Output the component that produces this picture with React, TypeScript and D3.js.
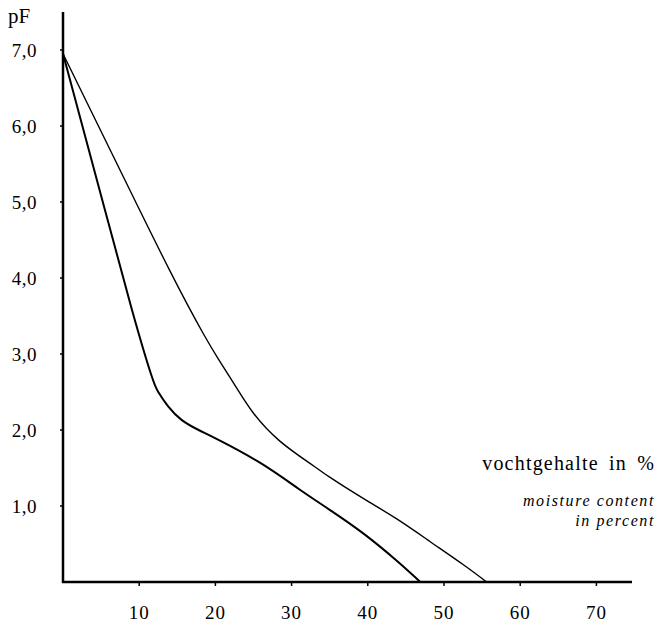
import React, { useEffect, useRef } from 'react';
import * as d3 from 'd3';

// pF curves, moisture content (%) vs pF
const upperMoisture = [0, 7, 14, 18.4, 20.6, 22.8, 25, 28.5, 32.85, 35, 39.4, 43.8, 48.2, 52.5, 55.6];
const upperPF = [6.95, 5.52, 4.1, 3.27, 2.9, 2.55, 2.22, 1.85, 1.53, 1.38, 1.1, 0.83, 0.53, 0.23, 0];

const lowerMoisture = [0, 4.5, 9, 11.6, 12.5, 13.8, 15.6, 17.8, 20.6, 26, 31, 35, 39.4, 43.8, 46.9];
const lowerPF = [6.95, 5.27, 3.6, 2.72, 2.5, 2.31, 2.13, 2.0, 1.86, 1.56, 1.22, 0.95, 0.64, 0.28, 0];

const yTicks = [1, 2, 3, 4, 5, 6, 7];
const xTicks = [10, 20, 30, 40, 50, 60, 70];

const App = () => {
  const svgRef = useRef<SVGSVGElement>(null);

  useEffect(() => {
    const svg = d3.select(svgRef.current);
    svg.selectAll('*').remove();

    const width = 661;
    const height = 630;
    const font = '"Liberation Serif", "DejaVu Serif", serif';

    const x = d3.scaleLinear().domain([0, 10]).range([63, 139.2]);
    const y = d3.scaleLinear().domain([0, 7]).range([582, 50]);

    svg.attr('width', width).attr('height', height);

    const g = svg.append('g');

    // Y axis
    g.append('line')
      .attr('x1', x(0)).attr('x2', x(0))
      .attr('y1', 12).attr('y2', y(0) + 1)
      .attr('stroke', '#000').attr('stroke-width', 2.5);

    g.selectAll('.ytick')
      .data(yTicks)
      .enter()
      .append('line')
      .attr('x1', x(0) - 3).attr('x2', x(0))
      .attr('y1', d => y(d)).attr('y2', d => y(d))
      .attr('stroke', '#000').attr('stroke-width', 1.5);

    g.selectAll('.ylab')
      .data(yTicks)
      .enter()
      .append('text')
      .attr('x', 37)
      .attr('y', d => y(d) + 7)
      .attr('text-anchor', 'end')
      .attr('font-family', font)
      .attr('font-size', 19)
      .attr('letter-spacing', 0.5)
      .text(d => d.toFixed(1).replace('.', ','));

    g.append('text')
      .attr('x', 8).attr('y', 23)
      .attr('font-family', font)
      .attr('font-size', 21)
      .text('pF');

    // X axis
    g.append('line')
      .attr('x1', x(0) - 1).attr('x2', 632)
      .attr('y1', y(0)).attr('y2', y(0))
      .attr('stroke', '#000').attr('stroke-width', 2.5);

    g.selectAll('.xtick')
      .data(xTicks)
      .enter()
      .append('line')
      .attr('x1', d => x(d)).attr('x2', d => x(d))
      .attr('y1', y(0)).attr('y2', y(0) + 4)
      .attr('stroke', '#000').attr('stroke-width', 1.5);

    g.selectAll('.xlab')
      .data(xTicks)
      .enter()
      .append('text')
      .attr('x', d => x(d))
      .attr('y', 619)
      .attr('text-anchor', 'middle')
      .attr('font-family', font)
      .attr('font-size', 19)
      .attr('letter-spacing', 1)
      .text(d => d);

    // Axis title
    g.append('text')
      .attr('x', 655).attr('y', 470)
      .attr('text-anchor', 'end')
      .attr('font-family', font)
      .attr('font-size', 20)
      .attr('letter-spacing', 1.2)
      .attr('word-spacing', 4)
      .text('vochtgehalte in %');

    g.append('text')
      .attr('x', 655).attr('y', 506)
      .attr('text-anchor', 'end')
      .attr('font-family', font)
      .attr('font-style', 'italic')
      .attr('font-size', 16)
      .attr('letter-spacing', 1.6)
      .text('moisture content');

    g.append('text')
      .attr('x', 655).attr('y', 526)
      .attr('text-anchor', 'end')
      .attr('font-family', font)
      .attr('font-style', 'italic')
      .attr('font-size', 16)
      .attr('letter-spacing', 1.6)
      .text('in percent');

    // Curves
    const line = d3.line<[number, number]>()
      .x(d => x(d[0]))
      .y(d => y(d[1]))
      .curve(d3.curveNatural);

    const upper = upperMoisture.map((m, i) => [m, upperPF[i]] as [number, number]);
    const lower = lowerMoisture.map((m, i) => [m, lowerPF[i]] as [number, number]);

    g.append('path')
      .attr('d', line(upper))
      .attr('fill', 'none')
      .attr('stroke', '#000')
      .attr('stroke-width', 1.4);

    g.append('path')
      .attr('d', line(lower))
      .attr('fill', 'none')
      .attr('stroke', '#000')
      .attr('stroke-width', 2);
  }, []);

  return <svg ref={svgRef} style={{ position: 'absolute', left: 0, top: 0 }} />;
};

export default App;
